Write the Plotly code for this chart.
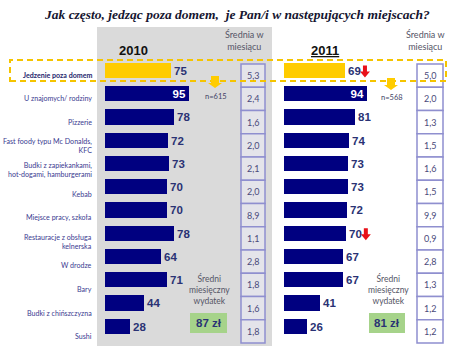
import plotly.graph_objects as go

W, H = 450, 352

categories = ["Jedzenie poza domem", "U znajomych/ rodziny", "Pizzerie",
              "Fast foody typu Mc Donalds,<br>KFC", "Budki z zapiekankami,<br>hot-dogami, hamburgerami",
              "Kebab", "Miejsce pracy, szkoła", "Restauracje z obsługa<br>kelnerska",
              "W drodze", "Bary", "Budki z chińszczyzna", "Sushi"]
vals_2010 = [75, 95, 78, 72, 73, 70, 70, 78, 64, 71, 44, 28]
vals_2011 = [69, 94, 81, 74, 73, 73, 72, 70, 67, 67, 41, 26]
avg_2010 = ["5,3", "2,4", "1,6", "2,0", "2,1", "2,0", "8,9", "1,1", "2,8", "1,8", "1,6", "1,8"]
avg_2011 = ["5,0", "2,0", "1,3", "1,5", "1,6", "1,5", "9,9", "0,9", "2,8", "1,3", "1,2", "1,2"]
down_2011 = [0, 7]
spend_2010 = "87 zł"
spend_2011 = "81 zł"
n_2010 = "n=615"
n_2011 = "n=568"

NAVY = "#000080"
YEL = "#ffcc00"
TXT = "#2a3274"
LAB = "#3a3a90"
FNT = "Lato, Liberation Sans, sans-serif"

def px(x): return x / W
def py(y): return 1 - y / H

ROW0, STEP = 70.5, 23.25
SCALE = 0.88
X0_2010, X0_2011 = 105, 284
rows = list(range(len(categories)))

fig = go.Figure()

def bar_trace(vals, xaxis):
    colors = [YEL if i == 0 else NAVY for i in rows]
    pos = ["inside" if v >= 90 else "outside" for v in vals]
    tcol = ["white" if v >= 90 else TXT for v in vals]
    return go.Bar(x=vals, y=rows, orientation="h", xaxis=xaxis, yaxis="y",
                  marker=dict(color=colors, line=dict(width=0)), width=0.65,
                  texttemplate="<b>%{x}</b>", textposition=pos,
                  insidetextanchor="end", constraintext="none",
                  textfont=dict(family="Liberation Sans", size=11.5, color=tcol),
                  cliponaxis=False, showlegend=False, hoverinfo="skip")

fig.add_trace(bar_trace(vals_2010, "x"))
fig.add_trace(bar_trace(vals_2011, "x2"))

shapes = []
ann = []

def text(x, y, t, size, color, family=FNT, xanchor="center", xref="paper", yref="paper", align="center"):
    ann.append(dict(xref=xref, yref=yref, x=x, y=y, text=t, showarrow=False, xanchor=xanchor,
                    yanchor="middle", align=align, font=dict(family=family, size=size, color=color)))

def down_arrow(xc, ytop, sw, hw, sh, hh, color):
    path = "M {a},{b} L {c},{b} L {c},{d} L {e},{d} L {f},{g} L {h},{d} L {i},{d} Z".format(
        a=px(xc - sw / 2), b=py(ytop), c=px(xc + sw / 2), d=py(ytop + sh), e=px(xc + hw / 2), f=px(xc),
        g=py(ytop + sh + hh), h=px(xc - hw / 2), i=px(xc - sw / 2))
    shapes.append(dict(type="path", xref="paper", yref="paper", path=path, fillcolor=color, line=dict(width=0)))

# gray panel
shapes.append(dict(type="rect", xref="paper", yref="paper", x0=px(97), x1=px(272), y0=py(346), y1=py(27),
                   fillcolor="#dadada", line=dict(width=0), layer="below"))
# yellow dashed frame
shapes.append(dict(type="rect", xref="paper", yref="paper", x0=px(10), x1=px(446), y0=py(81), y1=py(60),
                   fillcolor="rgba(0,0,0,0)", line=dict(color="#f5c400", width=2, dash="6px,4px"), layer="above"))

# average boxes
for xl, xr, vals, fill in [(241, 265, avg_2010, "#e4e4ea"), (417, 443, avg_2011, "#ffffff")]:
    for i, v in enumerate(vals):
        c = i + 0.22
        shapes.append(dict(type="rect", xref="paper", yref="y", x0=px(xl), x1=px(xr), y0=c - 0.5, y1=c + 0.5,
                           fillcolor=fill, line=dict(color="#8f8fcf", width=1.5), layer="below"))
        text(px((xl + xr) / 2), c, v, 9, "#4a4a7a", yref="y")

# category labels
for i, c in enumerate(categories):
    t = "<b>%s</b>" % c if i == 0 else c
    text(px(94), py(75 + 23.8 * i), t, 7.1, "#1f1f6e" if i == 0 else LAB, xanchor="right", align="right")

# title
text(px(237), py(14), "<b><i>Jak często, jedząc poza domem,  je Pan/i w następujących miejscach?</i></b>",
     13.5, "#151530", family="Liberation Serif")
# year labels
text(px(133), py(50), "<b>2010</b>", 13, "#111111", family="Liberation Sans")
text(px(325), py(50), "<b><u>2011</u></b>", 13, "#111111", family="Liberation Sans")
for xc in [245, 425]:
    text(px(xc), py(41), "Średnia w<br>miesiącu", 9, "#555566")
# spending
for xc, xl, xr, s in [(209, 190, 227, spend_2010), (388, 369, 405, spend_2011)]:
    text(px(xc), py(289), "Średni<br>miesięczny<br>wydatek", 8.5, "#555566")
    shapes.append(dict(type="rect", xref="paper", yref="paper", x0=px(xl), x1=px(xr), y0=py(333), y1=py(313),
                       fillcolor="#a6d38a", line=dict(width=0)))
    text(px((xl + xr) / 2), py(323), "<b>%s</b>" % s, 11.5, TXT, family="Liberation Sans")

# n labels and yellow arrows
for xc, y0, n in [(215, 76, n_2010), (391, 78, n_2011)]:
    down_arrow(xc, y0, 8, 14, 7, 5, YEL)
    text(px(xc + 1), py(y0 + 20), n, 7.5, "#444466")

# red down arrows (placed after the value label of the bar)
for i in down_2011:
    xc = X0_2011 + SCALE * (vals_2011[i] + 23)
    ytop = ROW0 + STEP * i - 5
    down_arrow(xc, ytop, 4, 10, 6, 6, "#e8111a")

fig.update_layout(
    width=W, height=H, margin=dict(l=0, r=0, t=0, b=0),
    paper_bgcolor="white", plot_bgcolor="rgba(0,0,0,0)",
    xaxis=dict(domain=[0, 1], range=[-X0_2010 / SCALE, (W - X0_2010) / SCALE], visible=False, fixedrange=True),
    xaxis2=dict(domain=[0, 1], range=[-X0_2011 / SCALE, (W - X0_2011) / SCALE], visible=False, overlaying="x",
                anchor="y", fixedrange=True),
    yaxis=dict(domain=[0, 1], range=[(H - ROW0) / STEP, -ROW0 / STEP], visible=False, fixedrange=True),
    shapes=shapes, annotations=ann, bargap=0,
)

fig.write_html("out.html")
